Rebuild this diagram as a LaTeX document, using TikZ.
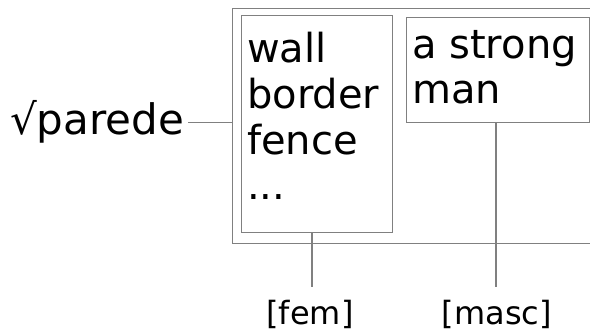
\documentclass[tikz,border=0pt]{standalone}
\usepackage{fontspec}
\setmainfont{DejaVu Sans}
\begin{document}
\begin{tikzpicture}[x=1pt,y=-1pt,
  frame/.style={draw=black!50,line width=1.1pt,inner sep=0pt,anchor=north west},
  conn/.style={draw=black!50,line width=1.1pt},
  big/.style={font=\fontsize{40}{45.7}\selectfont,inner sep=0pt,align=left},
  tag/.style={font=\fontsize{32}{36}\selectfont,inner sep=0pt}]
\useasboundingbox (0,0) rectangle (590,334);
\clip (0,0) rectangle (590,334);
\node[frame,minimum width=420pt,minimum height=235pt] (outer) at (232,8) {};
\node[frame,minimum width=151pt,minimum height=217pt] (box1) at (241,15) {};
\node[frame,minimum width=183pt,minimum height=105pt] (box2) at (406,17) {};
\node[big,anchor=base west] (list1) at (247,200) {wall\\border\\fence\\...};
\node[big,anchor=base west] (list2) at (412,104) {a strong\\man};
\node[big,font=\fontsize{42}{46}\selectfont,anchor=base west] (root) at (10,135) {√parede};
\node[tag,anchor=base] (fem) at (310,325) {[fem]};
\node[tag,anchor=base] (masc) at (497,325) {[masc]};
\coordinate (femtop) at (312,287);
\coordinate (masctop) at (496,287);
\draw[conn] ([xshift=4pt]root.east) -- (root.east -| outer.west);
\draw[conn] (box1.south -| femtop) -- (femtop);
\draw[conn] (box2.south -| masctop) -- (masctop);
\end{tikzpicture}
\end{document}
